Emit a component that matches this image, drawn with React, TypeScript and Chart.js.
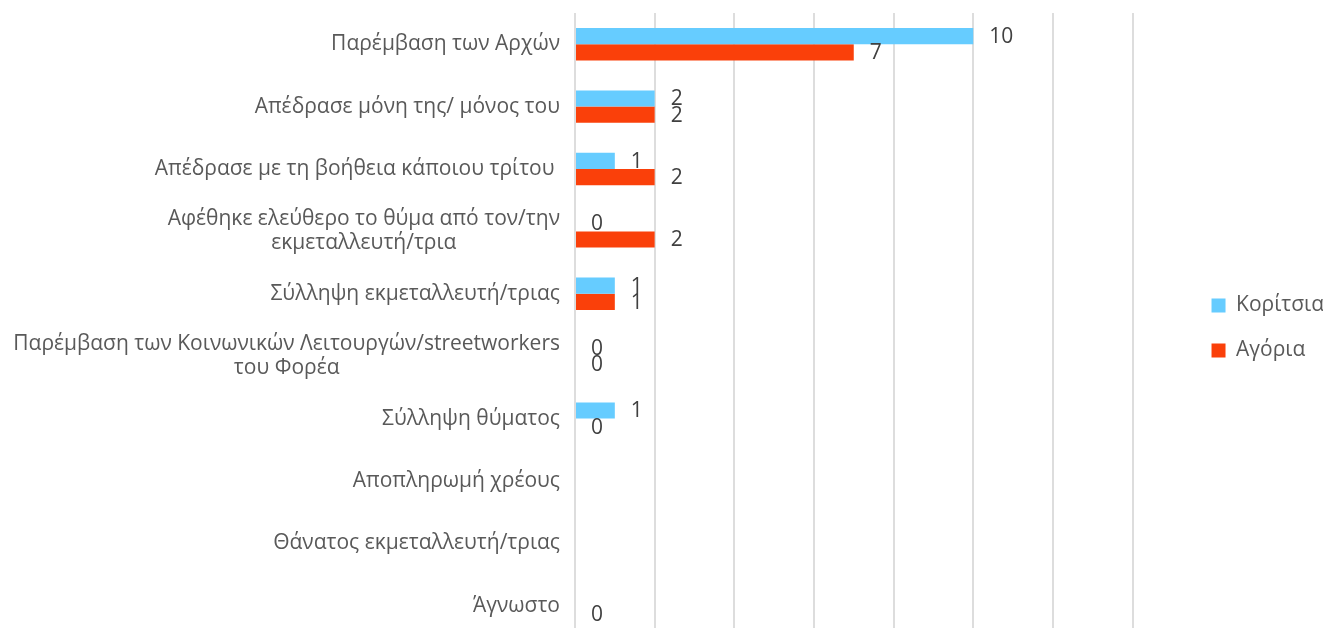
import React, { useEffect, useRef } from "react";
import { Chart, registerables } from "chart.js";

Chart.register(...registerables);

const categories: string[][] = [
  ["Παρέμβαση των Αρχών"],
  ["Απέδρασε μόνη της/ μόνος του"],
  ["Απέδρασε με τη βοήθεια κάποιου τρίτου "],
  ["Αφέθηκε ελεύθερο το θύμα από τον/την", "εκμεταλλευτή/τρια"],
  ["Σύλληψη εκμεταλλευτή/τριας"],
  ["Παρέμβαση των Κοινωνικών Λειτουργών/streetworkers", "του Φορέα"],
  ["Σύλληψη θύματος"],
  ["Αποπληρωμή χρέους"],
  ["Θάνατος εκμεταλλευτή/τριας"],
  ["Άγνωστο"],
];

const girls: (number | null)[] = [10, 2, 1, 0, 1, 0, 1, null, null, null];
const boys: (number | null)[] = [7, 2, 2, 2, 1, 0, 0, null, null, 0];

const xTicksMax = 14;
const xStep = 2;

const FONT = "'Open Sans', sans-serif";
const LABEL_SIZE = 21;
const VALUE_SIZE = 21;

const labelPlugin = {
  id: "catLabels",
  afterDraw(chart: any) {
    const { ctx } = chart;
    const y = chart.scales.y;
    ctx.save();
    ctx.font = `${LABEL_SIZE}px ${FONT}`;
    ctx.fillStyle = "#595959";
    ctx.textBaseline = "middle";
    ctx.textAlign = "center";
    const right = y.right - 15;
    const lh = 24;
    categories.forEach((lines, i) => {
      const cy = y.getPixelForValue(i);
      const maxW = Math.max(...lines.map((l) => ctx.measureText(l).width));
      const cx = right - maxW / 2;
      lines.forEach((l, j) => {
        ctx.fillText(l, cx, cy + (j - (lines.length - 1) / 2) * lh);
      });
    });
    ctx.font = `${VALUE_SIZE}px ${FONT}`;
    ctx.fillStyle = "#404040";
    ctx.textAlign = "left";
    chart.data.datasets.forEach((ds: any, di: number) => {
      const meta = chart.getDatasetMeta(di);
      meta.data.forEach((el: any, i: number) => {
        const v = ds.data[i];
        if (v === null || v === undefined) return;
        ctx.fillText(String(v), el.x + 16, el.y + 1);
      });
    });
    ctx.restore();
  },
};

export default function App() {
  const ref = useRef<HTMLCanvasElement>(null);
  useEffect(() => {
    document.body.style.margin = "0";
    const chart = new Chart(ref.current!, {
      type: "bar",
      data: {
        labels: categories.map((c) => c.join(" ")),
        datasets: [
          {
            label: "Κορίτσια",
            data: girls,
            backgroundColor: "#66CCFF",
            categoryPercentage: 0.52,
            barPercentage: 1,
          },
          {
            label: "Αγόρια",
            data: boys,
            backgroundColor: "#FA400A",
            categoryPercentage: 0.52,
            barPercentage: 1,
          },
        ],
      },
      options: {
        indexAxis: "y",
        animation: false,
        responsive: false,
        maintainAspectRatio: false,
        layout: { padding: { top: 13, bottom: 3, left: 0, right: -11 } },
        scales: {
          x: {
            min: 0,
            max: xTicksMax,
            ticks: { display: false, stepSize: xStep },
            grid: { color: "#DDDDDD", lineWidth: 2, drawTicks: false },
            border: { display: false },
            afterFit: (s: any) => {
              s.height = 6;
            },
          },
          y: {
            ticks: { display: false },
            grid: { display: false },
            border: { display: false },
            afterFit: (s: any) => {
              s.width = 575;
            },
          },
          gap: {
            type: "linear",
            position: "right",
            display: true,
            ticks: { display: false },
            grid: { display: false },
            border: { display: false },
            afterFit: (s: any) => {
              s.width = 55;
            },
          },
        },
        plugins: {
          legend: {
            position: "right",
            labels: {
              boxWidth: 14,
              boxHeight: 14,
              padding: 24,
              color: "#595959",
              font: { family: FONT, size: 21 },
            },
          },
          tooltip: { enabled: false },
        },
      },
      plugins: [labelPlugin],
    });
    return () => chart.destroy();
  }, []);
  return (
    <div style={{ width: 1323, height: 628, overflow: "hidden" }}>
      <canvas ref={ref} width={1323} height={646} style={{ display: "block" }} />
    </div>
  );
}
